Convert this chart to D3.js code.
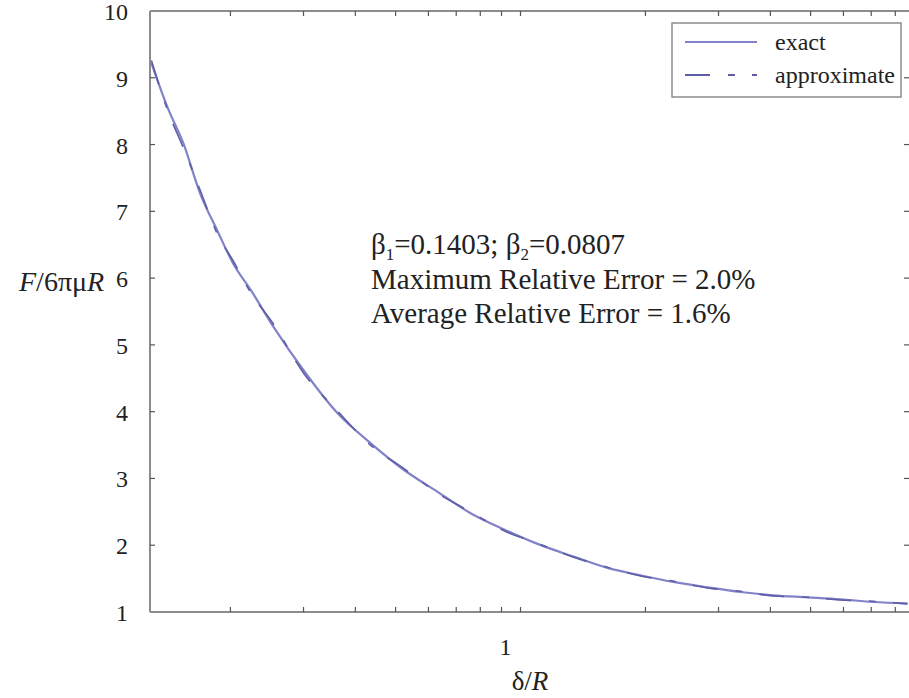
<!DOCTYPE html>
<html>
<head>
<meta charset="utf-8">
<script src="https://cdn.jsdelivr.net/npm/d3@7"></script>
<style>
  body { margin: 0; background: #fff; }
</style>
</head>
<body>
<div id="chart"></div>
<script>
// δ/R values (log axis)
const gap = [0.129, 0.141, 0.154, 0.169, 0.186, 0.203, 0.224, 0.254, 0.300, 0.362,
  0.435, 0.523, 0.631, 0.758, 0.910, 1.099, 1.342, 1.620, 1.946, 2.337,
  2.822, 3.390, 4.070, 4.916, 5.903, 7.090, 8.560];
const exact = [9.22, 8.56, 8.02, 7.27, 6.71, 6.22, 5.82, 5.27, 4.62, 3.98,
  3.53, 3.13, 2.80, 2.48, 2.24, 2.02, 1.83, 1.66, 1.55, 1.45,
  1.37, 1.30, 1.25, 1.22, 1.19, 1.15, 1.13];
const approx = [9.26, 8.52, 7.95, 7.32, 6.66, 6.26, 5.78, 5.31, 4.58, 4.01,
  3.50, 3.15, 2.78, 2.50, 2.22, 2.03, 1.82, 1.67, 1.54, 1.46,
  1.36, 1.31, 1.24, 1.22, 1.18, 1.16, 1.12];
const xTicks = [0.2, 0.3, 0.4, 0.5, 0.6, 0.7, 0.8, 0.9, 1, 2, 3, 4, 5, 6, 7, 8];
const xLabels = [1];
const yTicks = [1, 2, 3, 4, 5, 6, 7, 8, 9, 10];
const seriesNames = ['exact', 'approximate'];
const notes = ['Maximum Relative Error = 2.0%', 'Average Relative Error = 1.6%'];

const width = 909, height = 698;
const mLeft = 150, mRight = 910, mTop = 11, mBottom = 612;
const serif = '"Liberation Serif"';

const svg = d3.select('#chart').append('svg')
  .attr('width', width)
  .attr('height', height);

const x = d3.scaleLog().domain([0.128, 8.68]).range([mLeft, mRight]);
const y = d3.scaleLinear().domain([1, 10]).range([mBottom, mTop]);

svg.append('clipPath').attr('id', 'plot')
  .append('rect')
  .attr('x', mLeft).attr('y', mTop)
  .attr('width', mRight - mLeft).attr('height', mBottom - mTop);

const axisColor = '#8c8c8c';
const tickColor = '#555';

// frame
svg.append('line').attr('x1', mLeft).attr('x2', mRight).attr('y1', mBottom).attr('y2', mBottom)
  .attr('stroke', axisColor).attr('stroke-width', 2);
svg.append('line').attr('x1', mLeft).attr('x2', mRight).attr('y1', mTop).attr('y2', mTop)
  .attr('stroke', axisColor).attr('stroke-width', 2);
svg.append('line').attr('x1', mLeft).attr('x2', mLeft).attr('y1', mTop).attr('y2', mBottom)
  .attr('stroke', axisColor).attr('stroke-width', 2);

// inward ticks
const tk = svg.append('g').attr('stroke', tickColor).attr('stroke-width', 1.2);
xTicks.forEach(v => {
  tk.append('line').attr('x1', x(v)).attr('x2', x(v)).attr('y1', mBottom).attr('y2', mBottom - 5);
  tk.append('line').attr('x1', x(v)).attr('x2', x(v)).attr('y1', mTop).attr('y2', mTop + 5);
});
yTicks.slice(1, -1).forEach(v => {
  tk.append('line').attr('x1', mLeft).attr('x2', mLeft + 5).attr('y1', y(v)).attr('y2', y(v));
  tk.append('line').attr('x1', 909).attr('x2', 904).attr('y1', y(v)).attr('y2', y(v));
});

// tick labels
svg.selectAll('.ylab').data(yTicks).join('text')
  .attr('class', 'ylab')
  .attr('x', mLeft - 22)
  .attr('y', d => y(d) + 9)
  .attr('text-anchor', 'end')
  .style('font-family', serif)
  .attr('font-size', 24)
  .attr('fill', '#222')
  .text(d => d);

svg.selectAll('.xlab').data(xLabels).join('text')
  .attr('class', 'xlab')
  .attr('x', d => x(d) - 15)
  .attr('y', mBottom + 43)
  .attr('text-anchor', 'middle')
  .style('font-family', serif)
  .attr('font-size', 24)
  .attr('fill', '#222')
  .text(d => d);

// axis titles
const xt = svg.append('text')
  .attr('x', 530).attr('y', 690)
  .attr('text-anchor', 'middle')
  .style('font-family', serif)
  .attr('font-size', 27)
  .attr('fill', '#222');
xt.append('tspan').text('δ/');
xt.append('tspan').attr('font-style', 'italic').text('R');

const yt = svg.append('text')
  .attr('x', 19).attr('y', y(6) + 13)
  .style('font-family', serif)
  .attr('font-size', 28)
  .attr('fill', '#222');
yt.append('tspan').attr('font-style', 'italic').text('F');
yt.append('tspan').text('/6πμ');
yt.append('tspan').attr('font-style', 'italic').text('R');

// curves
const rows = gap.map((g, i) => ({ g, e: exact[i], a: approx[i] }));
const line = key => d3.line()
  .x(d => x(d.g))
  .y(d => y(d[key]))
  .curve(d3.curveMonotoneX)(rows);

const lineColor = '#8282c8';
const dashColor = '#5e5ea8';
const dash = '25,18,7,17';

const plot = svg.append('g').attr('clip-path', 'url(#plot)');
plot.append('path')
  .attr('d', line('e'))
  .attr('fill', 'none')
  .attr('stroke', lineColor)
  .attr('stroke-width', 2.2);
plot.append('path')
  .attr('d', line('a'))
  .attr('fill', 'none')
  .attr('stroke', dashColor)
  .attr('stroke-width', 1.6)
  .attr('stroke-dasharray', dash);

// annotation
const ann = svg.append('g').attr('font-size', 29).attr('fill', '#222');
const b = ann.append('text').attr('x', 371).attr('y', 254).style('font-family', serif);
b.append('tspan').text('β');
b.append('tspan').attr('font-size', 17).attr('dy', 6).text('1');
b.append('tspan').attr('dy', -6).text('=0.1403; β');
b.append('tspan').attr('font-size', 17).attr('dy', 6).text('2');
b.append('tspan').attr('dy', -6).text('=0.0807');
notes.forEach((t, i) => {
  ann.append('text').attr('x', 371).attr('y', 289 + i * 34)
    .style('font-family', serif).text(t);
});

// legend
const lg = svg.append('g');
lg.append('rect')
  .attr('x', 672).attr('y', 23).attr('width', 229).attr('height', 74)
  .attr('fill', '#fff').attr('stroke', axisColor).attr('stroke-width', 1.5);
seriesNames.forEach((name, i) => {
  const ly = 42 + i * 33;
  lg.append('line')
    .attr('x1', 685).attr('x2', 757).attr('y1', ly).attr('y2', ly)
    .attr('stroke', i === 0 ? lineColor : dashColor)
    .attr('stroke-width', i === 0 ? 2.2 : 1.8)
    .attr('stroke-dasharray', i === 0 ? null : dash);
  lg.append('text')
    .attr('x', 775).attr('y', ly + 8)
    .style('font-family', serif)
    .attr('font-size', 24)
    .attr('fill', '#222')
    .text(name);
});
</script>
</body>
</html>
